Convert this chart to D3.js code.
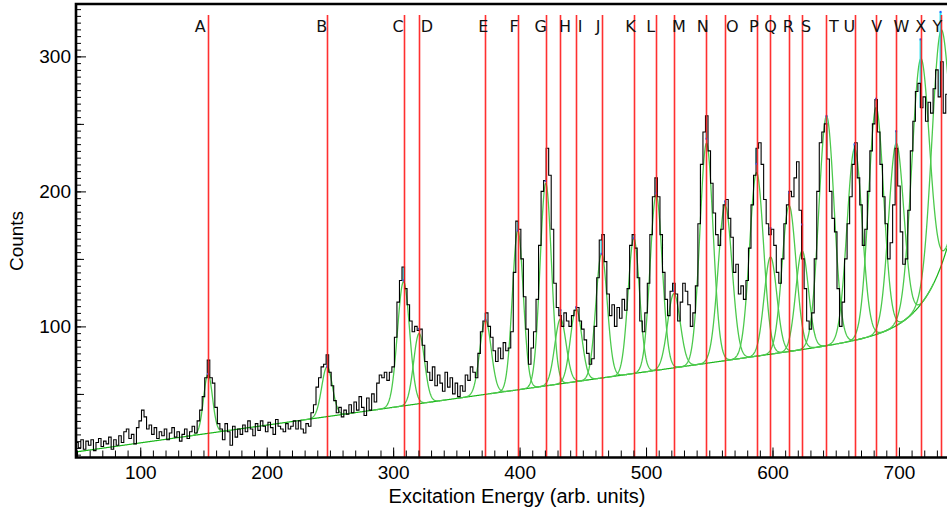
<!DOCTYPE html>
<html><head><meta charset="utf-8">
<script src="https://cdn.jsdelivr.net/npm/d3@7"></script>
<style>body{margin:0;background:#fff} svg{display:block}</style>
</head><body>
<svg id="c" width="947" height="516"></svg>
<script>
// ---- data ----
const binStart = 49, binWidth = 2;
const counts = [
  14,10,16,9,15,12,16,8,14,17,11,15,13,18,9,16,12,19,14,22,24,17,20,13,25,
  30,38,33,24,27,20,25,17,22,19,24,16,21,25,18,22,15,20,24,17,22,26,21,30,38,
  48,62,75,62,58,40,28,24,16,28,22,12,26,18,24,20,27,22,30,24,19,28,23,30,26,
  22,29,25,20,31,26,24,22,28,24,26,30,24,30,24,21,28,26,36,42,55,62,70,72,79,
  66,56,45,36,40,33,38,35,42,36,44,38,48,40,34,47,38,50,44,58,64,62,66,60,66,
  70,92,118,134,144,128,116,104,96,100,97,98,86,74,66,60,70,56,64,58,52,66,55,62,50,
  58,48,56,52,64,60,70,66,62,80,96,104,110,100,92,82,74,84,76,88,82,84,96,140,178,
  172,150,122,98,72,84,96,120,160,200,208,232,212,172,132,114,108,100,110,104,100,108,112,114,104,
  98,90,80,72,76,100,136,164,168,148,124,108,116,100,114,106,120,112,128,160,168,158,136,104,96,
  110,132,168,196,210,196,168,140,120,108,126,132,124,104,118,132,126,116,100,110,130,176,220,244,256,
  230,206,184,168,160,172,190,194,180,166,140,146,124,130,120,134,158,190,212,232,236,220,194,176,168,
  172,160,140,132,150,176,190,200,196,210,222,186,150,128,104,98,110,150,200,236,244,250,224,200,180,
  170,128,100,118,150,176,196,220,236,210,190,160,172,200,230,250,268,244,220,196,176,150,162,190,232,
  204,170,146,150,186,230,252,274,280,262,270,252,266,258,276,290,270,296,258,272
];
const peakLabels = ["A","B","C","D","E","F","G","H","I","J","K","L","M","N","O","P","Q","R","S","T","U","V","W","X","Y"];
const peakCentroids = [153.6,247.7,308.2,320.5,373.0,398.6,420.7,432.3,444.7,464.8,490.3,508.0,522.0,547.8,562.5,587.4,598.4,613.1,623.4,642.7,664.9,681.9,697.8,717.1,732.9];
const peakAmplitudes = [44,37,92,52,55,118,150,48,54,92,100,130,55,163,115,136,72,108,73,170,142,168,135,182,175];
const peakSigmas = [3.5,4.2,4.8,4.3,4.5,4.3,4.5,4.5,4.5,4.5,4.5,4.8,5,5.2,5.5,5.5,5,5.5,5,6,6,6,6,7,7];
const labelEnergies = [147.4,243.5,304.0,326.7,371.3,395.6,416.6,436.0,447.8,462.1,487.8,503.6,526.0,544.9,568.2,585.2,598.5,612.5,626.6,648.5,660.8,682.5,701.9,717.2,730.4];
const bgParams = {a:0.55, b:0.1317, c:9, e0:700, k:20}; // a + b*E + c*exp((E-e0)/k)
const xTickLabels = [100,200,300,400,500,600,700];
const yTickLabels = [100,200,300];

// ---- layout ----
const L=76, T=4, B=457.5, R=947;
const svg = d3.select("#c");
const x = d3.scaleLinear().domain([49.2, 738]).range([L, R]);
const y = d3.scaleLinear().domain([2.9, 338.8]).range([B, T]);

svg.append("defs").append("clipPath").attr("id","clip")
  .append("rect").attr("x",L).attr("y",T).attr("width",R-L).attr("height",B-T);
const plot = svg.append("g").attr("clip-path","url(#clip)");

const bg = E => bgParams.a + bgParams.b*E + bgParams.c*Math.exp((E-bgParams.e0)/bgParams.k);
const gauss = (E,i) => peakAmplitudes[i]*Math.exp(-((E-peakCentroids[i])**2)/(2*peakSigmas[i]**2));
const total = E => bg(E) + d3.sum(peakCentroids, (c,i) => gauss(E,i));

const line = d3.line().x(d=>x(d[0])).y(d=>y(d[1]));
const stepLine = d3.line().x(d=>x(d[0])).y(d=>y(d[1])).curve(d3.curveStepAfter);
const Es = d3.range(49.2, 738.01, 0.4);
const binEdges = counts.map((_,i)=>binStart+i*binWidth);
const binOf = E => Math.max(0, Math.min(counts.length-1, Math.floor((E-binStart)/binWidth)));

// background
plot.append("path").attr("d", line(Es.map(E=>[E,bg(E)])))
  .attr("fill","none").attr("stroke","#16b516").attr("stroke-width",1.2);

// components
peakCentroids.forEach((c,i)=>{
  const s = peakSigmas[i];
  const pts = d3.range(c-5*s, c+5*s, 0.3).map(E=>[E, bg(E)+gauss(E,i)]);
  plot.append("path").attr("d", line(pts)).attr("fill","none")
    .attr("stroke","#4cc94c").attr("stroke-width",1.3);
});

// cyan residual markers at centroids (fit value to bin content)
plot.append("g").selectAll("line").data(peakCentroids).join("line")
  .attr("x1",d=>x(d)).attr("x2",d=>x(d))
  .attr("y1",d=>y(total(d))).attr("y2",d=>y(counts[binOf(d)]))
  .attr("stroke","#20e4f4").attr("stroke-width",2);

// histogram
const histPts = counts.map((c,i)=>[binEdges[i], c]);
histPts.push([binStart+counts.length*binWidth, counts[counts.length-1]]);
plot.append("path").attr("d", stepLine(histPts)).attr("fill","none")
  .attr("stroke","#000").attr("stroke-width",1.1);

// fit-top markers
plot.append("g").selectAll("rect").data(peakCentroids).join("rect")
  .attr("x",d=>x(d)-1).attr("y",d=>y(total(d))-1).attr("width",2).attr("height",2)
  .attr("fill","#2060ff");

// red marker lines
svg.append("g").selectAll("line").data(peakCentroids).join("line")
  .attr("x1",d=>Math.round(x(d))+0.5).attr("x2",d=>Math.round(x(d))+0.5).attr("y1",15).attr("y2",B)
  .attr("stroke","#ff1a1a").attr("stroke-width",1.6).attr("opacity",0.9);

// peak labels
svg.append("g").selectAll("text").data(peakLabels).join("text")
  .attr("x",(d,i)=>x(labelEnergies[i])).attr("y",31.5)
  .attr("text-anchor","middle").attr("font-family","DejaVu Sans, Verdana, sans-serif")
  .attr("font-size",16).attr("fill","#111").text(d=>d);

// axes
const fontFam = "Liberation Sans, Arial, Helvetica, sans-serif";
function styleAxis(g){ g.select(".domain").remove(); g.selectAll("line").attr("stroke","#000").attr("stroke-width",1);
  g.selectAll("text").attr("font-family",fontFam).attr("font-size",19).attr("fill","#000"); }
svg.append("g").attr("transform",`translate(0,${B})`)
  .call(d3.axisBottom(x).tickValues(d3.range(50,739,10)).tickSize(-7).tickFormat("")).call(styleAxis);
svg.append("g").attr("transform",`translate(0,${B})`)
  .call(d3.axisBottom(x).tickValues(xTickLabels).tickSize(-10).tickPadding(8)).call(styleAxis);
svg.append("g").attr("transform",`translate(${L},0)`)
  .call(d3.axisLeft(y).tickValues(d3.range(5,339,5)).tickSize(-5).tickFormat("")).call(styleAxis);
svg.append("g").attr("transform",`translate(${L},0)`)
  .call(d3.axisLeft(y).tickValues(d3.range(50,339,100)).tickSize(-8).tickFormat("")).call(styleAxis);
svg.append("g").attr("transform",`translate(${L},0)`)
  .call(d3.axisLeft(y).tickValues(yTickLabels).tickSize(-10).tickPadding(5)).call(styleAxis);

// frame
svg.append("path").attr("d",`M${R+5},${T} H${L} V${B} H${R+5}`)
  .attr("fill","none").attr("stroke","#000").attr("stroke-width",2.6);

// titles
svg.append("text").attr("x",517).attr("y",503).attr("text-anchor","middle")
  .attr("font-family",fontFam).attr("font-size",20).text("Excitation Energy (arb. units)");
svg.append("text").attr("transform","translate(23,241) rotate(-90)").attr("text-anchor","middle")
  .attr("font-family",fontFam).attr("font-size",19).text("Counts");
</script>
</body></html>
